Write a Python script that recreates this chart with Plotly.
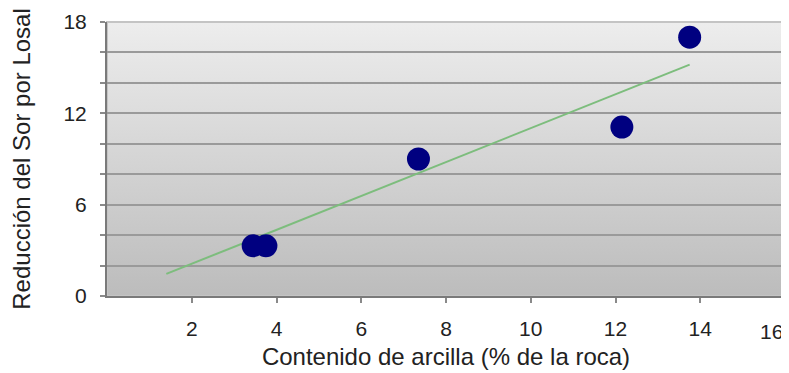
import base64
import plotly.graph_objects as go

# Data
clay_pct = [3.45, 3.75, 7.35, 12.15, 13.75]
sor_reduction = [3.3, 3.3, 9.0, 11.1, 17.0]
trend_x = [1.4, 13.75]
trend_y = [1.45, 15.2]
x_ticks = [2, 4, 6, 8, 10, 12, 14, 16]
x_ticktext = ["2", "4", "6", "8", "10", "12", "14", "16"]
y_ticks = [0, 6, 12, 18]
y_ticktext = ["0", "6", "12", "18"]

FONT = "Liberation Sans, Arial, sans-serif"

svg = ('<svg xmlns="http://www.w3.org/2000/svg" width="100" height="100" '
       'preserveAspectRatio="none"><defs><linearGradient id="g" x1="0" y1="0" x2="0" y2="1">'
       '<stop offset="0" stop-color="#ededed"/><stop offset="1" stop-color="#bcbcbc"/>'
       '</linearGradient></defs><rect width="100" height="100" fill="url(#g)"/></svg>')
bg_uri = "data:image/svg+xml;base64," + base64.b64encode(svg.encode()).decode()

fig = go.Figure()
fig.add_trace(go.Scatter(x=trend_x, y=trend_y, mode="lines",
                         line=dict(color="#7dbd7d", width=2), hoverinfo="skip"))
fig.add_trace(go.Scatter(x=clay_pct, y=sor_reduction, mode="markers",
                         marker=dict(color="#000080", size=23, line=dict(width=0))))

# last x tick label sits at the right edge: draw it right-aligned so it stays visible
fig.add_annotation(x=x_ticks[-1], xref="x", y=0, yref="paper", text=x_ticktext[-1],
                   showarrow=False, xanchor="right", yanchor="middle",
                   xshift=0, yshift=-35, font=dict(size=21, color="#222222"))

# the page body has an 8px margin, so the figure is sized to fit the window
fig.update_layout(
    width=781, height=365,
    margin=dict(l=99, r=4, t=14, b=77),
    paper_bgcolor="white",
    plot_bgcolor="rgba(0,0,0,0)",
    showlegend=False,
    font=dict(family=FONT, size=20, color="#222222"),
    images=[dict(source=bg_uri, xref="paper", yref="paper", x=0, y=1,
                 sizex=1, sizey=1, sizing="stretch", layer="below")],
    shapes=[dict(type="rect", xref="paper", yref="paper", x0=0, y0=0, x1=1, y1=1,
                 line=dict(color="#c4c4c4", width=2), layer="below")],
    xaxis=dict(
        range=[0, 16], tickvals=x_ticks[:-1], ticktext=x_ticktext[:-1],
        showgrid=False, zeroline=False, automargin=False,
        showline=True, linecolor="#7a7a7a", linewidth=2,
        ticks="outside", ticklen=5, tickcolor="#8a8a8a", tickwidth=2,
        ticklabelstandoff=8,
        tickfont=dict(size=21, color="#222222"),
        title=dict(text="Contenido de arcilla (% de la roca)", standoff=9,
                   font=dict(size=24, color="#222222")),
    ),
    yaxis=dict(
        range=[0, 18], tickvals=y_ticks, ticktext=y_ticktext,
        showgrid=True, gridcolor="#9a9a9a", gridwidth=1.5, zeroline=False,
        automargin=False,
        showline=True, linecolor="#7a7a7a", linewidth=2,
        ticks="outside", ticklen=5, tickcolor="#8a8a8a", tickwidth=2,
        ticklabelstandoff=9,
        minor=dict(dtick=2, showgrid=True, gridcolor="#9a9a9a", gridwidth=1.5,
                   ticks="outside", ticklen=5, tickcolor="#8a8a8a", tickwidth=2),
        tickfont=dict(size=21, color="#222222"),
        title=dict(text="Reducción del Sor por Losal", standoff=32,
                   font=dict(size=24, color="#222222")),
    ),
)

fig.write_html("out.html")
